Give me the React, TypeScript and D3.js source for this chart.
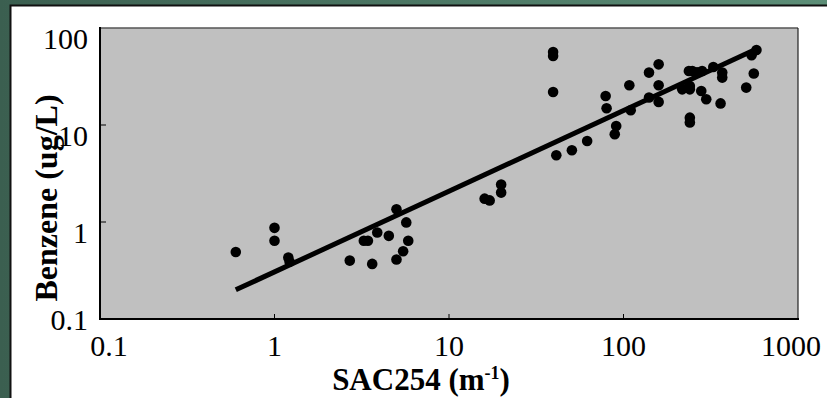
import React from "react";
import * as d3 from "d3";

// SAC254 (m-1) vs benzene (ug/L)
const sacValues = [
  0.6, 1.0, 1.0, 1.2, 1.22, 2.7, 3.25, 3.43, 3.63, 3.88, 4.52, 5.0, 5.0, 5.46,
  5.69, 5.84, 16.0, 17.1, 19.9, 19.9, 39.5, 39.5, 39.5, 41.2, 50.6, 61.9, 79,
  80, 90.8, 89.1, 108, 110, 140, 159, 140, 159, 159, 217, 240, 240, 237, 248,
  264, 282, 240, 240, 279, 298, 327, 368, 368, 360, 505, 558, 542, 578,
];
const benzeneValues = [
  0.49, 0.87, 0.64, 0.43, 0.39, 0.4, 0.64, 0.64, 0.37, 0.78, 0.72, 1.35, 0.41,
  0.5, 0.99, 0.64, 1.74, 1.67, 2.43, 2.01, 56.6, 51.4, 21.9, 4.87, 5.49, 6.84,
  19.9, 14.9, 9.77, 8.02, 25.7, 14.2, 34.7, 42.2, 19.2, 25.7, 17.3, 23.3, 25.2,
  23.3, 36, 36, 35, 36, 11.9, 10.6, 22.4, 18.4, 39.6, 34.7, 30.8, 16.7, 24.3,
  33.9, 52.3, 59.3,
];

// fitted power line, end points
const fitX = [0.6, 570];
const fitY = [0.2, 60];

const xTicks = [0.1, 1, 10, 100, 1000];
const yTicks = [0.1, 1, 10, 100];

const W = 827;
const H = 398;
const plot = { left: 100, right: 798, top: 28, bottom: 319 };
const font = '"Liberation Serif", "Times New Roman", serif';

export default function App() {
  const x = d3.scaleLog().domain([0.1, 1000]).range([plot.left, plot.right]);
  const y = d3.scaleLog().domain([0.1, 100]).range([plot.bottom, plot.top]);

  const fitLine = d3
    .line<number>()
    .x((d) => x(d))
    .y((d, i) => y(fitY[i]));

  const tickLabel = (v: number) => (v < 1 ? String(v) : d3.format("d")(v));

  // excel nudges the end labels inward
  const xLabelShift = (i: number) => (i === 0 ? 9 : i === xTicks.length - 1 ? -7 : 0);

  return (
    <svg
      width={W}
      height={H}
      style={{ position: "absolute", left: 0, top: 0 }}
      fontFamily={font}
    >
      <defs>
        <linearGradient id="bg" x1="0" x2="1" y1="0" y2="0">
          <stop offset="0" stopColor="#3b5f50" />
          <stop offset="1" stopColor="#5c8e77" />
        </linearGradient>
      </defs>
      <rect width={W} height={H} fill="url(#bg)" />
      <rect
        x={10.5}
        y={5.5}
        width={W + 10}
        height={H + 10}
        fill="#fff"
        stroke="#111"
        strokeWidth={2}
      />

      {/* plot area */}
      <rect
        x={plot.left}
        y={plot.top}
        width={plot.right - plot.left}
        height={plot.bottom - plot.top}
        fill="#c0c0c0"
      />
      <line x1={plot.left} x2={plot.right} y1={plot.top} y2={plot.top} stroke="#555" strokeWidth={1.5} />
      <line x1={plot.right} x2={plot.right} y1={plot.top} y2={plot.bottom} stroke="#222" strokeWidth={1.2} />

      {/* ticks inside */}
      {xTicks.slice(1, -1).map((t) => (
        <line key={"xt" + t} x1={x(t)} x2={x(t)} y1={plot.bottom} y2={plot.bottom - 5} stroke="#000" strokeWidth={1} />
      ))}
      {yTicks.slice(1, -1).map((t) => (
        <line key={"yt" + t} x1={plot.left} x2={plot.left + 6} y1={y(t)} y2={y(t)} stroke="#000" strokeWidth={1} />
      ))}

      {/* axes */}
      <line x1={plot.left} x2={plot.left} y1={plot.top - 1} y2={plot.bottom + 1} stroke="#000" strokeWidth={2} />
      <line x1={plot.left - 1} x2={plot.right + 1} y1={plot.bottom} y2={plot.bottom} stroke="#000" strokeWidth={2} />

      {/* data */}
      {sacValues.map((v, i) => (
        <circle key={i} cx={x(v)} cy={y(benzeneValues[i])} r={5.3} fill="#000" />
      ))}
      <path d={fitLine(fitX) || ""} fill="none" stroke="#000" strokeWidth={5} />

      {/* tick labels */}
      {xTicks.map((t, i) => (
        <text
          key={"xl" + t}
          x={x(t) + xLabelShift(i)}
          y={356}
          fontSize={30}
          textAnchor="middle"
        >
          {tickLabel(t)}
        </text>
      ))}
      {yTicks.map((t, i) => (
        <text
          key={"yl" + t}
          x={88}
          y={i === 0 ? y(t) : y(t) + 10}
          dy="0.35em"
          fontSize={30}
          textAnchor="end"
        >
          {tickLabel(t)}
        </text>
      ))}

      {/* axis titles */}
      <text
        transform="translate(57,198) rotate(-90)"
        textAnchor="middle"
        fontSize={32}
        fontWeight="bold"
      >
        Benzene (ug/L)
      </text>
      <text x={421} y={390} textAnchor="middle" fontSize={31} fontWeight="bold">
        SAC254 (m
        <tspan dy={-11} fontSize={18}>-1</tspan>
        <tspan dy={11}>)</tspan>
      </text>
    </svg>
  );
}
